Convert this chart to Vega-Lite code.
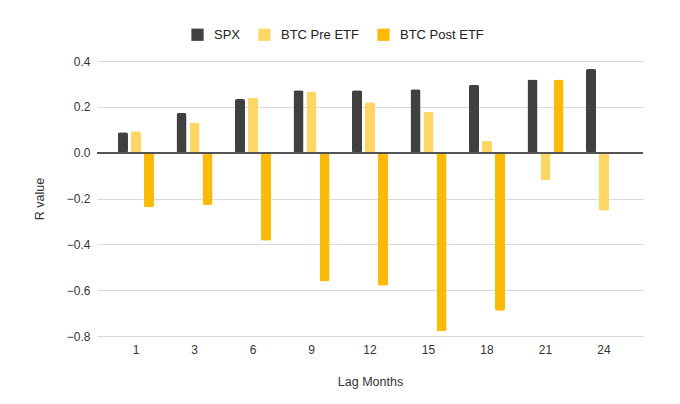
{
  "$schema": "https://vega.github.io/schema/vega-lite/v6.json",
  "autosize": {"type": "none"},
  "width": 546,
  "height": 275,
  "padding": {"left": 97, "top": 61, "right": 37, "bottom": 68},
  "background": "white",
  "config": {
    "view": {"stroke": null},
    "font": "Liberation Sans",
    "axis": {"labelFont": "Liberation Sans", "titleFont": "Liberation Sans", "labelColor": "#333333", "titleColor": "#333333", "titleFontWeight": "normal", "labelFontSize": 12, "titleFontSize": 12.5}
  },
  "data": {
    "values": [
      {"lag": 1, "series": "SPX", "r": 0.089},
      {"lag": 1, "series": "BTC Pre ETF", "r": 0.093},
      {"lag": 1, "series": "BTC Post ETF", "r": -0.238},
      {"lag": 3, "series": "SPX", "r": 0.173},
      {"lag": 3, "series": "BTC Pre ETF", "r": 0.131},
      {"lag": 3, "series": "BTC Post ETF", "r": -0.228},
      {"lag": 6, "series": "SPX", "r": 0.234},
      {"lag": 6, "series": "BTC Pre ETF", "r": 0.239},
      {"lag": 6, "series": "BTC Post ETF", "r": -0.384},
      {"lag": 9, "series": "SPX", "r": 0.272},
      {"lag": 9, "series": "BTC Pre ETF", "r": 0.267},
      {"lag": 9, "series": "BTC Post ETF", "r": -0.562},
      {"lag": 12, "series": "SPX", "r": 0.272},
      {"lag": 12, "series": "BTC Pre ETF", "r": 0.22},
      {"lag": 12, "series": "BTC Post ETF", "r": -0.581},
      {"lag": 15, "series": "SPX", "r": 0.277},
      {"lag": 15, "series": "BTC Pre ETF", "r": 0.178},
      {"lag": 15, "series": "BTC Post ETF", "r": -0.779},
      {"lag": 18, "series": "SPX", "r": 0.296},
      {"lag": 18, "series": "BTC Pre ETF", "r": 0.051},
      {"lag": 18, "series": "BTC Post ETF", "r": -0.69},
      {"lag": 21, "series": "SPX", "r": 0.319},
      {"lag": 21, "series": "BTC Pre ETF", "r": -0.121},
      {"lag": 21, "series": "BTC Post ETF", "r": 0.319},
      {"lag": 24, "series": "SPX", "r": 0.365},
      {"lag": 24, "series": "BTC Pre ETF", "r": -0.253}
    ]
  },
  "layer": [
    {
      "mark": {"type": "bar", "cornerRadius": 2},
      "encoding": {
        "x": {
          "field": "lag", "type": "ordinal",
          "scale": {"paddingInner": 0.333, "paddingOuter": 0.333},
          "axis": {"title": "Lag Months", "labelAngle": 0, "domain": false, "ticks": false, "labelPadding": 8, "titlePadding": 20}
        },
        "xOffset": {
          "field": "series", "type": "nominal",
          "scale": {"domain": ["SPX", "BTC Pre ETF", "BTC Post ETF"], "paddingInner": 0.23, "paddingOuter": 0.115}
        },
        "y": {
          "field": "r", "type": "quantitative",
          "scale": {"domain": [-0.8, 0.4], "nice": false},
          "axis": {"title": "R value", "values": [-0.8, -0.6, -0.4, -0.2, 0, 0.2, 0.4], "format": ".1f", "domain": false, "ticks": false, "labelPadding": 7, "gridColor": "#d9d9d9", "gridWidth": 1, "titlePadding": 20}
        },
        "color": {
          "field": "series", "type": "nominal",
          "scale": {"domain": ["SPX", "BTC Pre ETF", "BTC Post ETF"], "range": ["#404040", "#fdd663", "#f9bb08"]},
          "legend": {
            "title": null, "orient": "none", "direction": "horizontal",
            "legendX": 94, "legendY": -33,
            "symbolType": "square", "symbolSize": 150, "symbolStrokeWidth": 0,
            "labelFontSize": 13, "labelFont": "Liberation Sans", "labelColor": "#222222",
            "labelOffset": 10, "columnPadding": 17
          }
        }
      }
    },
    {
      "mark": {"type": "rule", "color": "#555555", "strokeWidth": 1},
      "encoding": {"y": {"datum": 0}}
    }
  ]
}
